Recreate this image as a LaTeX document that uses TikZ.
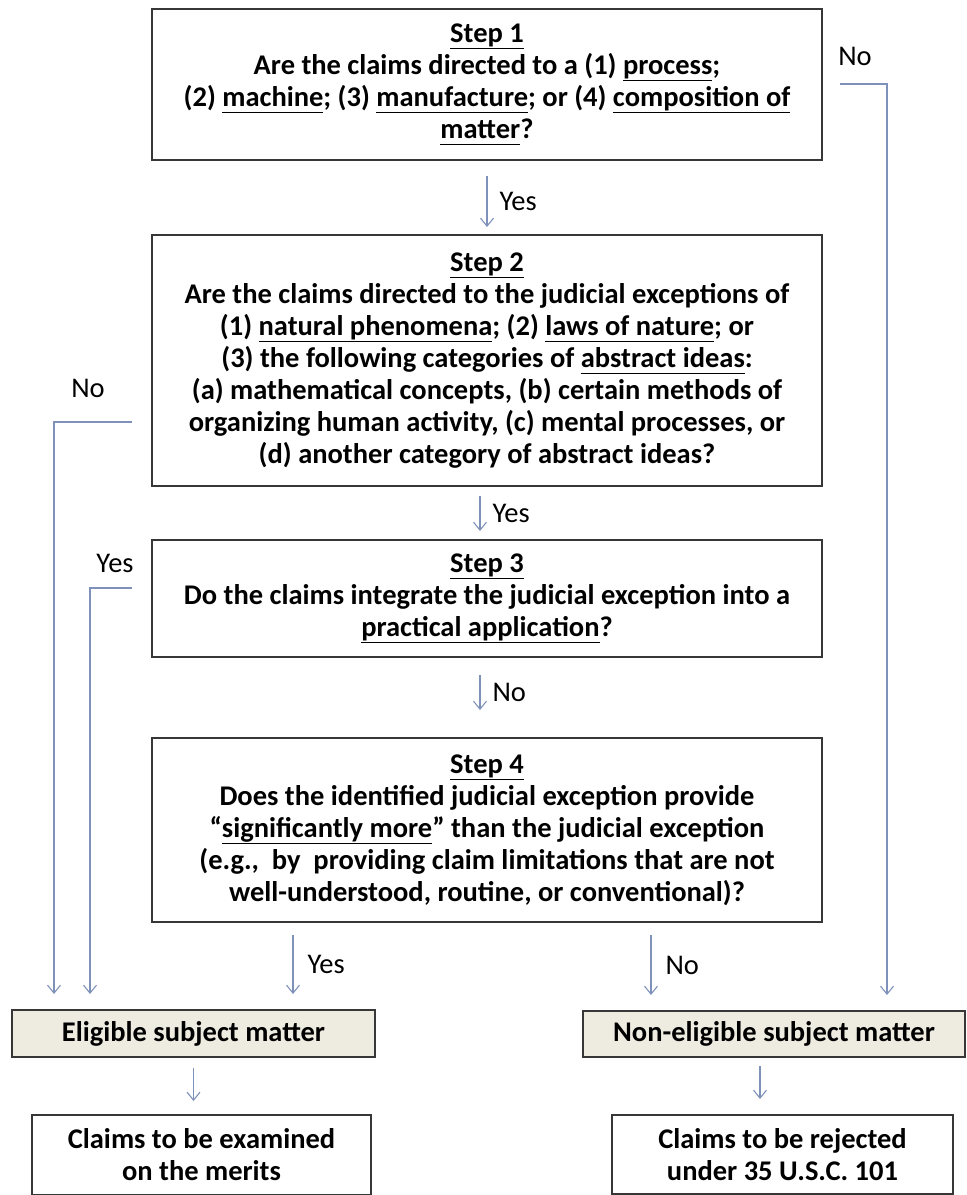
\documentclass[tikz,border=0pt]{standalone}
\usepackage{fontspec}
\setmainfont{Carlito}
\usetikzlibrary{positioning, arrows.meta}

\definecolor{boxline}{RGB}{55,55,55}
\definecolor{tanfill}{RGB}{238,236,225}
\definecolor{flowline}{RGB}{125,145,185}

\newcommand{\ulin}[1]{\underline{#1\vphantom{p}}}

\begin{document}
\begin{tikzpicture}[x=1pt, y=-1pt,
  stepbox/.style={rectangle, draw=boxline, line width=2pt, fill=white,
    minimum width=670pt, inner sep=0pt, align=center,
    font=\fontsize{28.5}{32}\selectfont\bfseries},
  endbox/.style={rectangle, draw=boxline, line width=2pt, fill=white,
    inner sep=0pt, align=center,
    font=\fontsize{28.5}{32}\selectfont\bfseries},
  flow/.style={draw=flowline, line width=1.1pt,
    -{Straight Barb[length=8pt, width=13pt]}},
  lbl/.style={font=\fontsize{28.5}{32}\selectfont, inner sep=0pt},
  ]
  \useasboundingbox (0,0) rectangle (967,1195);

  \node[stepbox, minimum height=151pt] (s1) at (487,84.5)
  {\ulin{Step 1}\\ Are the claims directed to a (1) \ulin{process};\\
    (2) \ulin{machine}; (3) \ulin{manufacture}; or (4) \ulin{composition of}\\
    \ulin{matter}?};

  \node[stepbox, minimum height=251pt, below=73pt of s1] (s2)
  {\ulin{Step 2}\\ Are the claims directed to the judicial exceptions of\\
    (1) \ulin{natural phenomena}; (2) \ulin{laws of nature}; or\\
    (3) the following categories of \ulin{abstract ideas}:\\
    (a) mathematical concepts, (b) certain methods of\\
    organizing human activity, (c) mental processes, or\\
    (d) another category of abstract ideas?};

  \node[stepbox, minimum height=117pt, below=52pt of s2] (s3)
  {\ulin{Step 3}\\ Do the claims integrate the judicial exception into a\\
    \ulin{practical application}?};

  \node[stepbox, minimum height=184pt, below=79pt of s3] (s4)
  {\ulin{Step 4}\\ Does the identified judicial exception provide\\
    ``\ulin{significantly more}'' than the judicial exception\\
    (e.g.,\ \ by\ \ providing claim limitations that are not\\
    well-understood, routine, or conventional)?};

  \node[endbox, fill=tanfill, minimum width=363pt, minimum height=47pt]
  (elig) at (193.5,1033.5) {Eligible subject matter};
  \node[endbox, fill=tanfill, minimum width=382pt, minimum height=46pt]
  (nonelig) at (774,1034) {Non-eligible subject matter};

  \node[endbox, minimum width=339pt, minimum height=80pt,
  below=56pt of elig, xshift=8pt] (exam) {Claims to be examined\\ on the merits};
  \node[endbox, minimum width=341pt, minimum height=79pt,
  below=56pt of nonelig, xshift=8.5pt] (rej) {Claims to be rejected\\ under 35 U.S.C. 101};

  % bends and columns of the side connectors
  \coordinate (r1) at (840,84);
  \coordinate (rx) at (887,0);
  \coordinate (l2) at (132,422);
  \coordinate (lx2) at (54,0);
  \coordinate (l3) at (132,588);
  \coordinate (lx3) at (90,0);
  \coordinate (yx) at (293,0);
  \coordinate (nx) at (651,0);
  \coordinate (bx) at (760,0);

  \draw[flow] ([yshift=-15pt]s1.south) -- node[lbl, right=12pt] (yes1) {Yes} ([yshift=7pt]s2.north);
  \draw[flow] ([xshift=-7pt, yshift=-9pt]s2.south) -- node[lbl, right=12pt] (yes2) {Yes} ([xshift=-7pt, yshift=8pt]s3.north);
  \draw[flow] ([xshift=-7pt, yshift=-17pt]s3.south) -- node[lbl, right=12pt] (no3) {No} ([xshift=-7pt, yshift=27pt]s4.north);
  \draw[flow] ([yshift=-12pt]s4.south -| yx) -- node[lbl, right=14pt] (yes4) {Yes} ([yshift=15pt]elig.north -| yx);
  \draw[flow] ([yshift=-12pt]s4.south -| nx) -- node[lbl, right=14pt] (no4) {No} ([yshift=15pt]nonelig.north -| nx);

  \draw[flow] (r1) -| ([yshift=15pt]nonelig.north -| rx);
  \draw[flow] (l2) -| ([yshift=15pt]elig.north -| lx2);
  \draw[flow] (l3) -| ([yshift=15pt]elig.north -| lx3);

  \node[lbl] (no1) at (855,56) {No};
  \node[lbl] (no2) at (88,388) {No};
  \node[lbl] (yes3) at (115,563) {Yes};

  \draw[flow] ([yshift=-10pt]elig.south) -- ([yshift=13pt]exam.north -| elig.south);
  \draw[flow] ([yshift=-8pt]nonelig.south -| bx) -- ([yshift=15pt]rej.north -| bx);
\end{tikzpicture}
\end{document}
